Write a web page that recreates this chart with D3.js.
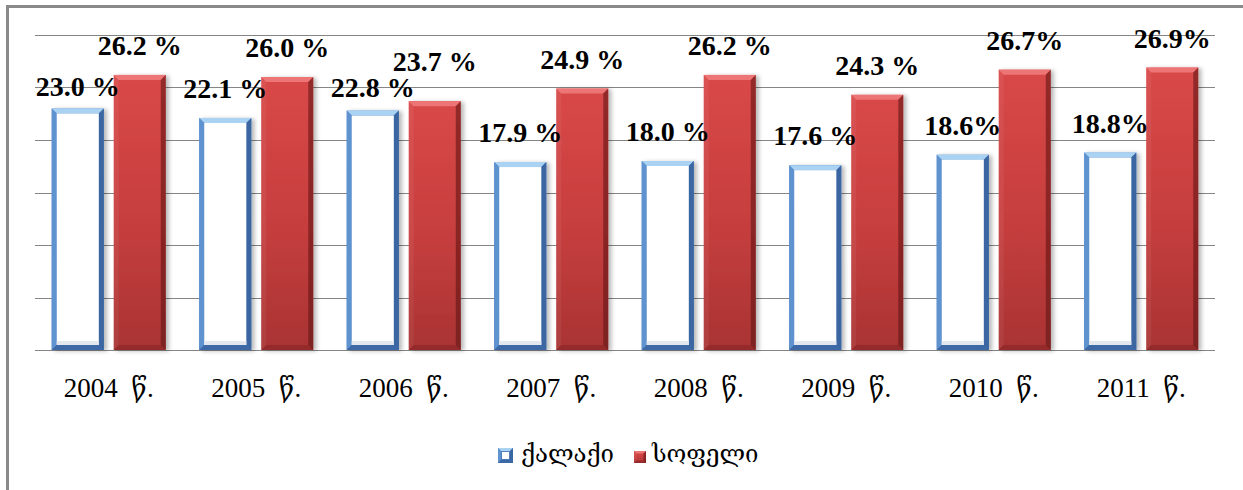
<!DOCTYPE html>
<html>
<head>
<meta charset="utf-8">
<script src="https://cdn.jsdelivr.net/npm/d3@7/dist/d3.min.js"></script>
<style>
  body { margin: 0; background: #fff; }
  svg { display: block; }
  .val { font-family: "Liberation Serif", "Times New Roman", Times, serif; font-weight: 700; font-size: 28px; fill: #000; }
</style>
</head>
<body>
<svg id="chart" width="1243" height="490"></svg>
<script>
// Share of population by settlement type, 2004–2011 (%)
const years = ["2004", "2005", "2006", "2007", "2008", "2009", "2010", "2011"];
const yearSuffix = "\u00a0\u00a0წ.";
const seriesNames = ["ქალაქი", "სოფელი"];
const cityValues = [23.0, 22.1, 22.8, 17.9, 18.0, 17.6, 18.6, 18.8];
const villageValues = [26.2, 26.0, 23.7, 24.9, 26.2, 24.3, 26.7, 26.9];
const percentSep = [" ", " ", " ", " ", " ", " ", "", ""];
const yTicks = [0, 5, 10, 15, 20, 25, 30];

const svg = d3.select("#chart");
const W = 1243, H = 490;
const plot = { left: 35, right: 1215, top: 35, bottom: 350 };

const x0 = d3.scaleBand().domain(years).range([plot.left, plot.right]);
const x1 = d3.scaleBand().domain(seriesNames)
  .range([0, x0.bandwidth()])
  .paddingInner(0.16).paddingOuter(0.27);
const y = d3.scaleLinear().domain([0, 30]).range([plot.bottom, plot.top]);

const defs = svg.append("defs");
const redGrad = defs.append("linearGradient").attr("id", "redFill")
  .attr("x1", 0).attr("y1", 0).attr("x2", 0).attr("y2", 1);
redGrad.append("stop").attr("offset", "0%").attr("stop-color", "#d94848");
redGrad.append("stop").attr("offset", "55%").attr("stop-color", "#c63e3e");
redGrad.append("stop").attr("offset", "100%").attr("stop-color", "#a93333");

const blueGrad = defs.append("linearGradient").attr("id", "blueFill")
  .attr("x1", 0).attr("y1", 0).attr("x2", 0).attr("y2", 1);
blueGrad.append("stop").attr("offset", "0%").attr("stop-color", "#5a8ccb");
blueGrad.append("stop").attr("offset", "100%").attr("stop-color", "#3f6fae");

const shadow = defs.append("filter").attr("id", "barShadow")
  .attr("x", "-20%").attr("y", "-10%").attr("width", "150%").attr("height", "130%");
shadow.append("feDropShadow").attr("dx", 3).attr("dy", 1)
  .attr("stdDeviation", 2).attr("flood-color", "#000").attr("flood-opacity", 0.28);

// Outer frame
svg.append("rect")
  .attr("x", 7.5).attr("y", 6.5)
  .attr("width", W + 20).attr("height", H + 20)
  .attr("fill", "none").attr("stroke", "#8a8a8a").attr("stroke-width", 3);

// Horizontal gridlines
svg.append("g").selectAll("line").data(yTicks).join("line")
  .attr("x1", plot.left).attr("x2", plot.right)
  .attr("y1", d => Math.round(y(d)) + 0.5).attr("y2", d => Math.round(y(d)) + 0.5)
  .attr("stroke", "#858585").attr("stroke-width", 1.2);

// Bevel helper: draws the edge facets of a bar
function bevel(g, x, yt, w, h, b, colors) {
  const pts = {
    top: [[x, yt], [x + w, yt], [x + w - b, yt + b], [x + b, yt + b]],
    left: [[x, yt], [x + b, yt + b], [x + b, yt + h - b], [x, yt + h]],
    right: [[x + w, yt], [x + w, yt + h], [x + w - b, yt + h - b], [x + w - b, yt + b]],
    bottom: [[x, yt + h], [x + b, yt + h - b], [x + w - b, yt + h - b], [x + w, yt + h]]
  };
  Object.keys(pts).forEach(k => {
    g.append("polygon")
      .attr("points", pts[k].map(p => p.join(",")).join(" "))
      .attr("fill", colors[k][0]).attr("fill-opacity", colors[k][1]);
  });
}

const rows = years.map((yr, i) => ({
  year: yr, city: cityValues[i], village: villageValues[i], sep: percentSep[i]
}));

const groups = svg.append("g").selectAll("g").data(rows).join("g")
  .attr("transform", d => `translate(${x0(d.year)},0)`);

const blueBevel = { top: ["#a9d2f3", 1], left: ["#5f93d0", 1], right: ["#3a66a2", 1], bottom: ["#3c69a6", 1] };
const redBevel = { top: ["#f07a7a", 0.9], left: ["#ffffff", 0.06], right: ["#5a1010", 0.55], bottom: ["#6e1a1a", 0.35] };

// City bars: white body with blue bevelled frame
groups.each(function (d) {
  const g = d3.select(this).append("g").attr("filter", "url(#barShadow)");
  const bx = x1(seriesNames[0]), bw = x1.bandwidth();
  const top = y(d.city), h = y(0) - top, b = 5;
  g.append("rect").attr("x", bx).attr("y", top).attr("width", bw).attr("height", h)
    .attr("fill", "url(#blueFill)");
  bevel(g, bx, top, bw, h, b, blueBevel);
  g.append("rect").attr("x", bx + b).attr("y", top + b)
    .attr("width", bw - 2 * b).attr("height", h - 2 * b).attr("fill", "#fff");
  g.append("rect").attr("x", bx + b).attr("y", y(0) - b - 4)
    .attr("width", bw - 2 * b).attr("height", 4).attr("fill", "#e3e8ef");
});

// Village bars: red bevelled blocks
groups.each(function (d) {
  const g = d3.select(this).append("g").attr("filter", "url(#barShadow)");
  const bx = x1(seriesNames[1]), bw = x1.bandwidth();
  const top = y(d.village), h = y(0) - top, b = 5;
  g.append("rect").attr("x", bx).attr("y", top).attr("width", bw).attr("height", h)
    .attr("fill", "url(#redFill)");
  bevel(g, bx, top, bw, h, b, redBevel);
});

// Value labels: sit about 20px above the bar; a few are nudged to keep them apart
const defaultLift = 20;
const liftOverride = { "2004|0": 13, "2006|0": 14, "2006|1": 30 };
const lift = (yr, s) => liftOverride[yr + "|" + s] ?? defaultLift;

groups.append("text").attr("class", "val")
  .attr("x", x1(seriesNames[0]) + x1.bandwidth() / 2)
  .attr("y", d => y(d.city) - lift(d.year, 0))
  .attr("text-anchor", "middle")
  .text(d => d.city.toFixed(1) + d.sep + "%");
groups.append("text").attr("class", "val")
  .attr("x", x1(seriesNames[1]) + x1.bandwidth() / 2)
  .attr("y", d => y(d.village) - lift(d.year, 1))
  .attr("text-anchor", "middle")
  .text(d => d.village.toFixed(1) + d.sep + "%");

// Category axis labels
const xAxis = d3.axisBottom(x0).tickSize(0).tickPadding(0).tickFormat(d => d + yearSuffix);
const ax = svg.append("g").attr("transform", `translate(0,${plot.bottom})`).call(xAxis);
ax.select(".domain").remove();
ax.attr("font-family", null).attr("font-size", null);
ax.selectAll("text")
  .attr("y", 47).attr("dy", null)
  .attr("font-family", "'Liberation Serif', 'DejaVu Serif', serif")
  .attr("font-size", 27).attr("fill", "#000");

// Legend
const legend = svg.append("g");
const lb = legend.append("g").attr("transform", "translate(498,448)");
lb.append("rect").attr("width", 15).attr("height", 15).attr("fill", "url(#blueFill)");
bevel(lb, 0, 0, 15, 15, 3, blueBevel);
lb.append("rect").attr("x", 4).attr("y", 4).attr("width", 7).attr("height", 7).attr("fill", "#fff");
legend.append("text").attr("x", 521).attr("y", 462)
  .attr("font-family", "'DejaVu Serif', serif").attr("font-size", 24).attr("fill", "#000")
  .text(seriesNames[0]);

const lr = legend.append("g").attr("transform", "translate(634,451)");
lr.append("rect").attr("width", 12).attr("height", 12).attr("fill", "url(#redFill)");
bevel(lr, 0, 0, 12, 12, 2.5, redBevel);
legend.append("text").attr("x", 652).attr("y", 462)
  .attr("font-family", "'DejaVu Serif', serif").attr("font-size", 24).attr("fill", "#000")
  .text(seriesNames[1]);
</script>
</body>
</html>
